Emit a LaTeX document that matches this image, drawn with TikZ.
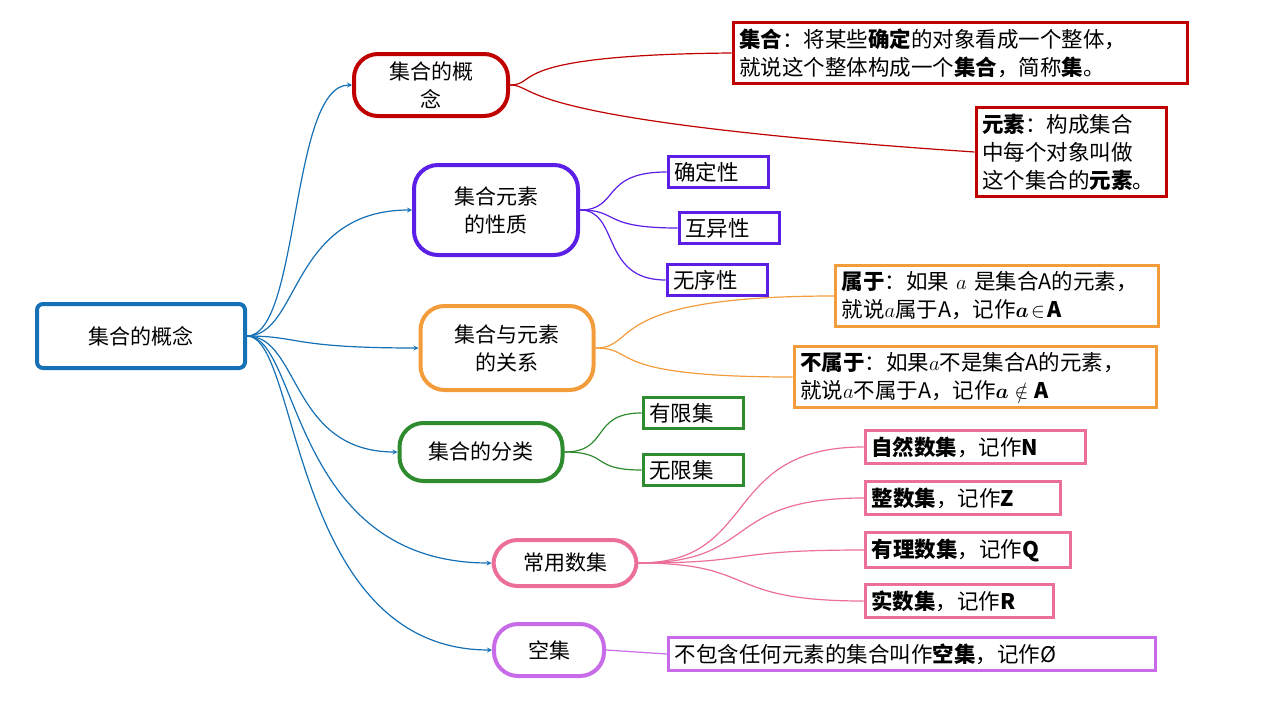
\documentclass[tikz,border=0pt]{standalone}
\usepackage{fontspec}
\usepackage{bm}
\setmainfont{Noto Sans CJK SC}
\usetikzlibrary{positioning}
\definecolor{rootblue}{HTML}{1670B5}
\definecolor{cred}{HTML}{C00000}
\definecolor{cpurple}{HTML}{5B1EE6}
\definecolor{corange}{HTML}{F39C3C}
\definecolor{cgreen}{HTML}{2E8B2E}
\definecolor{cpink}{HTML}{EC6F9A}
\definecolor{cviolet}{HTML}{C86BE8}
\tikzset{
  root/.style = {rectangle, rounded corners=6pt, draw=rootblue, line width=4pt, minimum width=208pt, minimum height=64pt, font=\fontsize{21}{27}\selectfont},
  topic/.style = {rectangle, rounded corners=24pt, line width=4pt, align=center, font=\fontsize{21}{28}\selectfont},
  leaf/.style = {rectangle, line width=3pt, align=left, inner sep=6pt, text width=#1, font=\fontsize{21.5}{28}\selectfont},
  leaf/.default = 88pt,
  main_link/.style = {rootblue, line width=1.2pt, -stealth},
  sub_link/.style = {line width=1.2pt},
}
\begin{document}
\begin{tikzpicture}[x=1pt, y=-1pt]
    \useasboundingbox (0,0) rectangle (1280,720);

    \node (root) [root] at (141,336) {集合的概念};

    \node (concept) [topic, draw=cred, minimum width=154pt, minimum height=62pt] at (431,85) {集合的概\\念};
    \node (property) [topic, draw=cpurple, minimum width=164pt, minimum height=90pt] at (496,210) {集合元素\\的性质};
    \node (relation) [topic, draw=corange, minimum width=173pt, minimum height=84pt] at (507,348) {集合与元素\\的关系};
    \node (classify) [topic, draw=cgreen, minimum width=163pt, minimum height=58pt] at (481,452) {集合的分类};
    \node (numsets) [topic, draw=cpink, minimum width=143pt, minimum height=46pt] at (565,563) {常用数集};
    \node (empty) [topic, draw=cviolet, minimum width=110pt, minimum height=52pt] at (549,650) {空集};

    % leaves
    \node (setdef) [leaf=442pt, draw=cred] at (960,53) {\textbf{集合}：将某些\textbf{确定}的对象看成一个整体，\\就说这个整体构成一个\textbf{集合}，简称\textbf{集}。};
    \node (elemdef) [leaf=178pt, draw=cred] at (1071,152) {\textbf{元素}：构成集合\\中每个对象叫做\\这个集合的\textbf{元素}。};

    \node (definite) [leaf, draw=cpurple] at (718,172) {确定性};
    \node (distinct) [leaf, draw=cpurple] at (729,228) {互异性};
    \node (unordered) [leaf, draw=cpurple] at (717,280) {无序性};

    \node (belong) [leaf=311pt, draw=corange] at (997,296) {\textbf{属于}：如果 $a$ 是集合A的元素，\\就说$a$属于A，记作$\bm{a}\!\in\!\mathbf{A}$};
    \node (notbelong) [leaf=350pt, draw=corange] at (975,377) {\textbf{不属于}：如果$a$不是集合A的元素，\\就说$a$不属于A，记作$\bm{a}\notin\mathbf{A}$};

    \node (finite) [leaf, draw=cgreen] at (693,413) {有限集};
    \node (infinite) [leaf, draw=cgreen] at (693,470) {无限集};

    \node (natural) [leaf=208pt, draw=cpink] at (975,447) {\textbf{自然数集}，记作\textbf{N}};
    \node (integer) [leaf=183pt, draw=cpink] at (963,498) {\textbf{整数集}，记作\textbf{Z}};
    \node (rational) [leaf=193pt, draw=cpink] at (968,550) {\textbf{有理数集}，记作\textbf{Q}};
    \node (real) [leaf=176pt, draw=cpink] at (959,601) {\textbf{实数集}，记作\textbf{R}};

    \node (emptydef) [leaf=475pt, draw=cviolet] at (912,654) {不包含任何元素的集合叫作\textbf{空集}，记作Ø};

    % root to topics
    \foreach \t in {concept, property, relation, classify, numsets, empty}
        \draw [main_link] (root.east) .. controls (300,336) and (290,336 |- \t.west) .. (\t.west);

    % topics to leaves
    \draw [sub_link, cred] (concept.east) .. controls (540,85) and (500,55) .. (setdef.west);
    \draw [sub_link, cred] (concept.east) .. controls (540,85) and (500,120) .. (elemdef.west);
    \foreach \l in {definite, distinct, unordered}
        \draw [sub_link, cpurple] (property.east) .. controls (620,210) and (600,210 |- \l.west) .. (\l.west);
    \foreach \l in {belong, notbelong}
        \draw [sub_link, corange] (relation.east) .. controls (640,348) and (600,348 |- \l.west) .. (\l.west);
    \foreach \l in {finite, infinite}
        \draw [sub_link, cgreen] (classify.east) .. controls (610,452) and (590,452 |- \l.west) .. (\l.west);
    \foreach \l in {natural, integer, rational, real}
        \draw [sub_link, cpink] (numsets.east) .. controls (760,563) and (720,563 |- \l.west) .. (\l.west);
    \draw [sub_link, cviolet] (empty.east) -- (emptydef.west);

\end{tikzpicture}
\end{document}
